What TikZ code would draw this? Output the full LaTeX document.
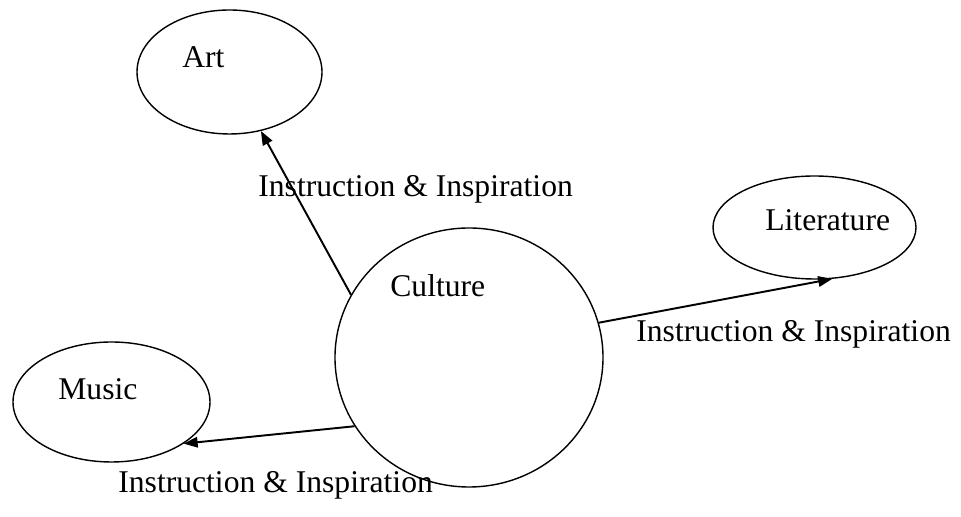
\documentclass[tikz,border=0pt]{standalone}
\usepackage{fontspec}
\setmainfont{Liberation Serif}
\usetikzlibrary{arrows.meta,shapes.geometric}

\tikzset{
  blob/.style={draw, ellipse, line width=0.8pt, inner sep=0pt},
  word/.style={anchor=base west, inner sep=0pt},
  feeds/.style={line width=1.1pt, -{Triangle[length=2.8mm,width=2.1mm]}}
}

\begin{document}
\begin{tikzpicture}[font=\fontsize{18}{22}\selectfont]
	\useasboundingbox (0,0) rectangle (19.22,10.34);
	% the four bubbles
	\node[blob, minimum width=3.70cm, minimum height=2.48cm] (art) at (4.59,8.90) {};
	\node[blob, minimum width=4.06cm, minimum height=2.06cm] (lit) at (16.29,5.79) {};
	\node[blob, minimum width=3.94cm, minimum height=2.40cm] (music) at (2.23,2.30) {};
	\node[blob, minimum width=5.36cm, minimum height=5.18cm] (culture) at (9.38,3.19) {};
	% names sit off centre
	\node[word] (art-name) at (3.64,8.98) {Art};
	\node[word] (lit-name) at (15.30,5.72) {Literature};
	\node[word] (music-name) at (1.16,2.34) {Music};
	\node[word] (culture-name) at (7.80,4.40) {Culture};
	% culture feeds the others
	\draw[feeds] (culture.152) -- (art.-62);
	\draw[feeds] (culture.15) -- (lit.-71);
	\draw[feeds] (culture.211) -- (music.-30);
	\node[word] (art-edge) at (5.16,6.40) {Instruction \& Inspiration};
	\node[word] (lit-edge) at (12.72,3.50) {Instruction \& Inspiration};
	\node[word] (music-edge) at (2.36,0.48) {Instruction \& Inspiration};
\end{tikzpicture}
\end{document}
